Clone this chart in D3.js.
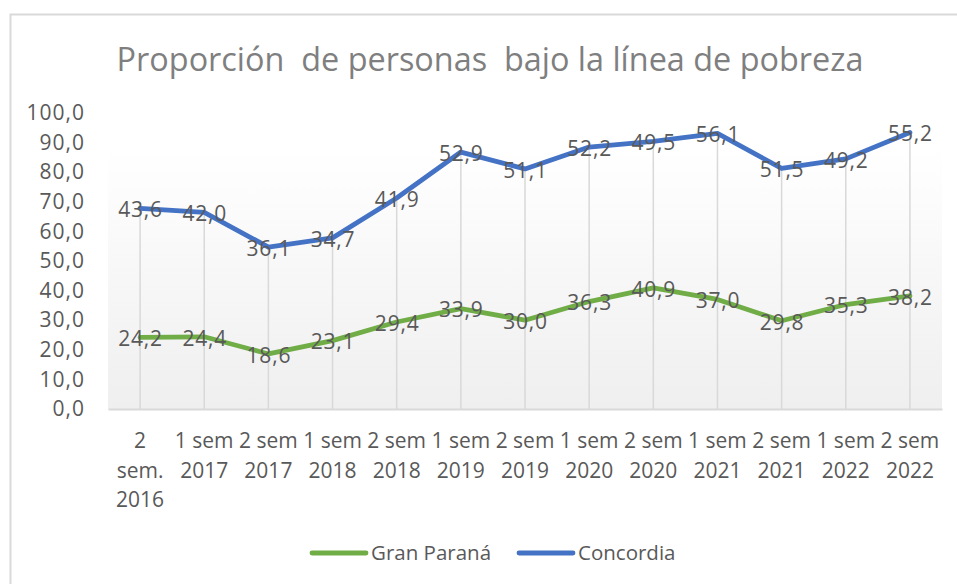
<!DOCTYPE html>
<html>
<head>
<meta charset="utf-8">
<script src="https://cdn.jsdelivr.net/npm/d3@7"></script>
<style>
  body { margin: 0; background: #fff; }
  text { font-family: "Open Sans", sans-serif; }
</style>
</head>
<body>
<div id="chart"></div>
<script>
// periods, each label already split in the lines Excel wraps it into
const periods = [
  ["2", "sem.", "2016"], ["1 sem", "2017"], ["2 sem", "2017"], ["1 sem", "2018"],
  ["2 sem", "2018"], ["1 sem", "2019"], ["2 sem", "2019"], ["1 sem", "2020"],
  ["2 sem", "2020"], ["1 sem", "2021"], ["2 sem", "2021"], ["1 sem", "2022"],
  ["2 sem", "2022"]
];
const granParana = [24.2, 24.4, 18.6, 23.1, 29.4, 33.9, 30.0, 36.3, 40.9, 37.0, 29.8, 35.3, 38.2];
const concordia = [43.6, 42.0, 36.1, 34.7, 41.9, 52.9, 51.1, 52.2, 49.5, 56.1, 51.5, 49.2, 55.2];
const seriesNames = ["Gran Paraná", "Concordia"];
const seriesColors = ["#70ad47", "#4472c4"];
const yTicks = [0, 10, 20, 30, 40, 50, 60, 70, 80, 90, 100];

const width = 957, height = 584;
const margin = { top: 113, right: 15, bottom: 175, left: 108 };

const locale = d3.formatLocale({ decimal: ",", thousands: ".", grouping: [3], currency: ["$", ""] });
const fmt = locale.format(".1f");

// stacked line chart: Concordia sits on top of Gran Paraná
const rows = periods.map((p, i) => ({ i: i, a: granParana[i], b: concordia[i] }));
const stacked = d3.stack().keys(["a", "b"])(rows);

const svg = d3.select("#chart").append("svg")
  .attr("width", width)
  .attr("height", height);

// chart frame
svg.append("rect")
  .attr("x", 10.5).attr("y", 14.5)
  .attr("width", width + 20).attr("height", height + 20)
  .attr("fill", "#fff")
  .attr("stroke", "#d9d9d9")
  .attr("stroke-width", 2);

const x = d3.scaleBand()
  .domain(d3.range(periods.length))
  .range([margin.left, width - margin.right])
  .padding(0);

const y = d3.scaleLinear()
  .domain([0, 100])
  .range([height - margin.bottom, margin.top]);

const cx = i => x(i) + x.bandwidth() / 2;

// plot area gradient
const defs = svg.append("defs");
const grad = defs.append("linearGradient")
  .attr("id", "plotBg")
  .attr("x1", 0).attr("y1", 0).attr("x2", 0).attr("y2", 1);
grad.append("stop").attr("offset", "0%").attr("stop-color", "#ffffff");
grad.append("stop").attr("offset", "12%").attr("stop-color", "#ffffff");
grad.append("stop").attr("offset", "100%").attr("stop-color", "#efefef");

svg.append("rect")
  .attr("x", margin.left)
  .attr("y", y(100))
  .attr("width", width - margin.right - margin.left)
  .attr("height", y(0) - y(100))
  .attr("fill", "url(#plotBg)");

// title
svg.append("text")
  .attr("x", 490)
  .attr("y", 71)
  .attr("text-anchor", "middle")
  .attr("fill", "#7f7f7f")
  .style("font-size", "32.4px")
  .style("white-space", "pre")
  .text("Proporción  de personas  bajo la línea de pobreza");

// y axis labels
const yAxis = svg.append("g")
  .attr("transform", `translate(${margin.left},0)`)
  .call(d3.axisLeft(y).tickValues(yTicks).tickFormat(fmt).tickSize(0).tickPadding(23));
yAxis.select(".domain").remove();
yAxis.selectAll("text")
  .attr("fill", "#595959")
  .style("font-size", "21px")
  .style("letter-spacing", "1px")
  .style("font-family", "'Open Sans', sans-serif");

// drop lines from the top series down to the axis
const topSeries = stacked[stacked.length - 1];
svg.append("g")
  .selectAll("line")
  .data(topSeries)
  .join("line")
  .attr("x1", (d, i) => cx(i))
  .attr("x2", (d, i) => cx(i))
  .attr("y1", d => y(d[1]))
  .attr("y2", y(0))
  .attr("stroke", "#d9d9d9")
  .attr("stroke-width", 1.5);

// x axis line
const xAxis = svg.append("g")
  .attr("transform", `translate(0,${y(0)})`)
  .call(d3.axisBottom(x).tickSize(0).tickFormat(""));
xAxis.select(".domain")
  .attr("stroke", "#d9d9d9")
  .attr("stroke-width", 2);

// category labels (wrapped)
const catLabels = svg.append("g")
  .selectAll("text")
  .data(periods)
  .join("text")
  .attr("x", (d, i) => cx(i))
  .attr("y", 448)
  .attr("text-anchor", "middle")
  .attr("fill", "#595959")
  .style("font-size", "21px");
catLabels.selectAll("tspan")
  .data(d => d)
  .join("tspan")
  .attr("x", function () { return this.parentNode.getAttribute("x"); })
  .attr("dy", (d, j) => j === 0 ? 0 : 29.5)
  .text(d => d);

// lines
const line = d3.line()
  .x((d, i) => cx(i))
  .y(d => y(d[1]));

svg.append("g")
  .selectAll("path")
  .data(stacked)
  .join("path")
  .attr("d", d => line(d))
  .attr("fill", "none")
  .attr("stroke", (d, k) => seriesColors[k])
  .attr("stroke-width", 4.8)
  .attr("stroke-linejoin", "round")
  .attr("stroke-linecap", "round");

// data labels, showing each series' own value
const seriesValues = [granParana, concordia];
stacked.forEach((s, k) => {
  svg.append("g")
    .selectAll("text")
    .data(s)
    .join("text")
    .attr("x", (d, i) => cx(i) + 0.5)
    .attr("y", d => y(d[1]))
    .attr("dy", "0.42em")
    .attr("text-anchor", "middle")
    .attr("fill", "#595959")
    .style("font-size", "21px")
    .style("letter-spacing", "0.8px")
    .text((d, i) => fmt(seriesValues[k][i]));
});

// legend
const legendItems = [
  { name: seriesNames[0], color: seriesColors[0], x0: 312 },
  { name: seriesNames[1], color: seriesColors[1], x0: 519 }
];
const legend = svg.append("g")
  .selectAll("g")
  .data(legendItems)
  .join("g")
  .attr("transform", d => `translate(${d.x0},553)`);
legend.append("line")
  .attr("x1", 0).attr("x2", 54)
  .attr("stroke", d => d.color)
  .attr("stroke-width", 4.8)
  .attr("stroke-linecap", "round");
legend.append("text")
  .attr("x", 59)
  .attr("dy", "0.35em")
  .attr("fill", "#595959")
  .style("font-size", "20.5px")
  .text(d => d.name);
</script>
</body>
</html>
